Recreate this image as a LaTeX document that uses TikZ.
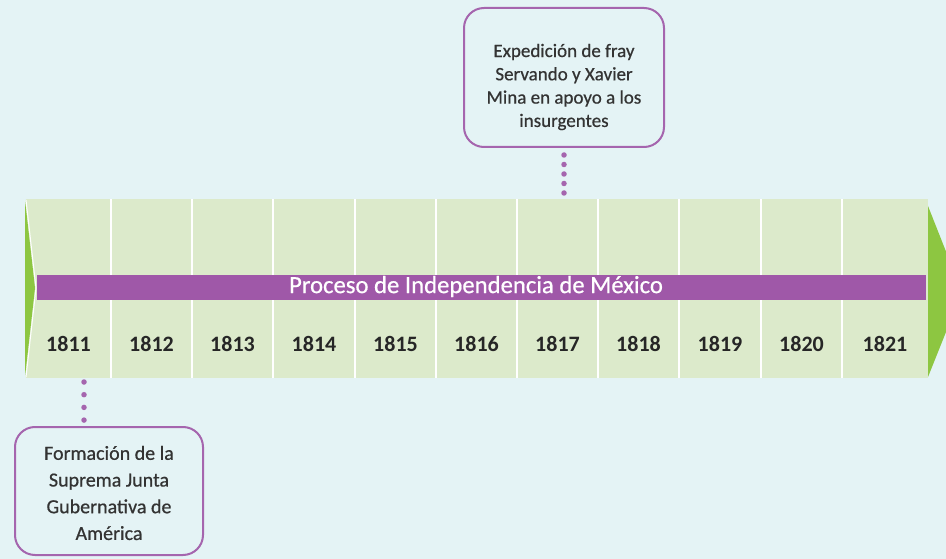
\documentclass[tikz,border=0pt]{standalone}
\usepackage{fontspec}
\setmainfont{Carlito}
\newfontfamily\medio[FakeBold=0.6]{Carlito}
\usepackage{tikz}
\usetikzlibrary{positioning}

\definecolor{fondo}{HTML}{E4F3F5}
\definecolor{franja}{HTML}{DCEACB}
\definecolor{flecha}{HTML}{8DC641}
\definecolor{barra}{HTML}{9F58A8}
\definecolor{borde}{HTML}{A565AE}
\definecolor{texto}{HTML}{333333}

\begin{document}
\begin{tikzpicture}[x=1pt,y=-1pt,
        cuadro/.style={draw=borde, line width=2pt, rounded corners=20pt, fill=fondo},
        textocuadro/.style={align=center, text=texto, inner sep=0pt},
        anio/.style={font=\bfseries\fontsize{22}{24}\selectfont, text=black!85},
        puntos/.style={draw=borde, line width=5.5pt, line cap=round}]
        \fill[fondo] (0,0) rectangle (946,559);
        \useasboundingbox (0,0) rectangle (946,559);
        % franja de los anios
        \fill[franja] (26,199) rectangle (928,378);
        \foreach \x in {111,192,273,355,436,517,598,679,761,842}
            \draw[white, line width=2pt] (\x,199) -- (\x,378);
        \fill[flecha] (25,200) -- (35,288) -- (25,377) -- cycle;
        \draw[white, line width=1pt] (26,200) -- (36,288) -- (26,377);
        \fill[flecha] (928,206) -- (962,292) -- (928,377) -- cycle;
        % barra del proceso
        \node[fill=barra, minimum width=889pt, minimum height=25pt, inner sep=0pt] (barra) at (481.5,287.5) {};
        \node[text=white, inner sep=0pt, font=\medio\fontsize{24.7}{26}\selectfont] (titulo) at (476,286.5) {Proceso de Independencia de México};
        \foreach \a/\b [count=\i from 0] in {26/111,111/192,192/273,273/355,355/436,436/517,517/598,598/679,679/761,761/842,842/928} {
            \pgfmathtruncatemacro\anio{1811+\i}
            \node[anio] (a\anio) at ({(\a+\b)/2},344) {\anio};
        }
        % acontecimientos
        \node[cuadro, minimum width=200pt, minimum height=139pt] (expedicion) at (564,77.5) {};
        \node[textocuadro, font=\medio\fontsize{19}{23.3}\selectfont] (expedicionTexto) at (564,87) {Expedición de fray\\Servando y Xavier\\Mina en apoyo a los\\insurgentes};
        \coordinate (sup) at (564,193);
        \draw[puntos, dash pattern=on 0pt off 9.5pt, dash phase=2.5pt] (expedicion.south) -- (sup);

        \node[cuadro, minimum width=188pt, minimum height=128pt] (formacion) at (109,491) {};
        \node[textocuadro, font=\medio\fontsize{20}{26.7}\selectfont] (formacionTexto) at (109,493) {Formación de la\\Suprema Junta\\Gubernativa de\\América};
        \coordinate (inf) at (84,382);
        \draw[puntos, dash pattern=on 0pt off 12.7pt] (inf) -- (inf |- formacion.north);
\end{tikzpicture}
\end{document}
